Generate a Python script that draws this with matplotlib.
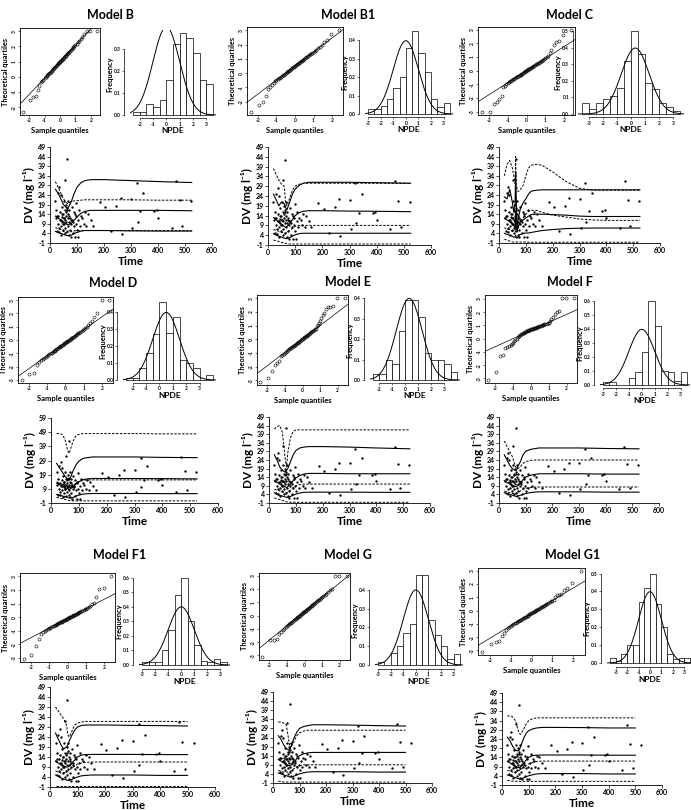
import matplotlib
matplotlib.use("Agg")
import matplotlib.pyplot as plt
import numpy as np
from statistics import NormalDist

plt.rcParams['font.family'] = ['Lato', 'DejaVu Sans']
plt.rcParams['axes.linewidth'] = 0.6

W, H = 691, 810

## ---------------- data ----------------
titles = ["Model B", "Model B1", "Model C", "Model D", "Model E", "Model F",
          "Model F1", "Model G", "Model G1"]

# sorted NPDE values (QQ plots)
npde_B = [-2.3, -1.55, -1.3, -1.25, -0.9, -0.6, -0.35, -0.28,
          -0.19, -0.11, -0.03, 0.04, 0.10, 0.16, 0.22, 0.28, 0.34, 0.39, 0.44, 0.50, 0.55, 0.60, 0.64,
          0.69, 0.74, 0.79, 0.83, 0.88, 0.93, 0.97, 1.02, 1.06, 1.11, 1.16, 1.20, 1.25, 1.30, 1.35,
          1.39, 1.44, 1.49, 1.55, 1.60, 1.65, 1.71, 1.77, 1.83, 1.89, 1.95, 2.02, 2.10, 2.18,
          2.26, 2.36, 2.46, 2.6, 2.85, 3.0, 3.0, 3.0]
npde_B1 = [-2.7, -2.25, -2.0, -1.6, -1.1, -1.0, -0.85, -0.7,
           -0.57, -0.50, -0.44, -0.37, -0.31, -0.26, -0.20, -0.15, -0.10, -0.05, 0.00, 0.05, 0.09,
           0.14, 0.18, 0.23, 0.27, 0.31, 0.35, 0.40, 0.44, 0.48, 0.52, 0.56, 0.61, 0.65, 0.69, 0.73,
           0.78, 0.82, 0.86, 0.91, 0.95, 1.00, 1.05, 1.10, 1.15, 1.20, 1.26, 1.31, 1.37, 1.44, 1.50, 1.57,
           1.65, 1.75, 1.85, 2.0, 2.15, 2.35, 2.75, 3.0]
npde_C = [-3.0, -3.0, -2.4, -2.3, -2.05, -1.85, -1.2, -1.1,
          -0.97, -0.90, -0.84, -0.78, -0.73, -0.68, -0.63, -0.58, -0.54, -0.49, -0.45, -0.41, -0.37,
          -0.33, -0.29, -0.25, -0.21, -0.17, -0.13, -0.09, -0.06, -0.02, 0.02, 0.06, 0.09, 0.13, 0.17,
          0.21, 0.25, 0.29, 0.33, 0.37, 0.41, 0.45, 0.49, 0.54, 0.58, 0.63, 0.68, 0.73, 0.78, 0.84, 0.90, 0.97,
          1.05, 1.3, 1.5, 1.9, 2.1, 2.2, 2.6, 2.95]
npde_D = [-3.0, -2.55, -2.45, -1.85, -1.65, -1.5, -1.42, -1.35,
          -1.27, -1.20, -1.14, -1.07, -1.01, -0.96, -0.90, -0.85, -0.80, -0.75, -0.70, -0.65, -0.61,
          -0.56, -0.52, -0.48, -0.43, -0.39, -0.35, -0.31, -0.26, -0.22, -0.18, -0.14, -0.10, -0.05,
          -0.01, 0.03, 0.08, 0.12, 0.16, 0.21, 0.25, 0.30, 0.35, 0.40, 0.45, 0.50, 0.56, 0.61, 0.67, 0.74, 0.80, 0.87,
          0.97, 1.1, 1.3, 1.45, 1.75, 2.0, 3.0, 3.0]
npde_E = [-3.1, -2.85, -2.3, -1.85, -1.75, -1.6, -1.25, -1.12,
          -1.04, -0.97, -0.91, -0.84, -0.78, -0.73, -0.67, -0.62, -0.57, -0.52, -0.47, -0.42, -0.38,
          -0.33, -0.29, -0.25, -0.20, -0.16, -0.12, -0.08, -0.03, 0.01, 0.05, 0.09, 0.14, 0.18, 0.22,
          0.26, 0.31, 0.35, 0.39, 0.44, 0.48, 0.53, 0.58, 0.63, 0.68, 0.73, 0.79, 0.95, 1.05, 1.2, 1.35, 1.55,
          1.75, 1.9, 2.25, 2.35, 2.4, 2.45, 3.0, 3.0]
npde_F = [-3.1, -2.5, -1.3, -1.25, -0.7, -0.6, -0.55, -0.5, -0.4, -0.3,
          -0.2, -0.1, 0.0, 0.1, 0.17, 0.22, 0.3, 0.35, 0.38, 0.42,
          0.45, 0.5, 0.53, 0.56, 0.58, 0.6, 0.63, 0.65, 0.68, 0.7,
          0.72, 0.74, 0.76, 0.78, 0.8, 0.82, 0.84, 0.86, 0.88, 0.9,
          0.92, 0.95, 0.97, 1.0, 1.02, 1.05, 1.08, 1.1, 1.13, 1.16,
          1.2, 1.3, 1.5, 1.65, 1.85, 2.0, 2.1, 3.05, 3.05, 3.05]
npde_F1 = [-3.05, -2.75, -2.1, -1.6, -1.25, -1.1, -1.0, -0.93,
           -0.87, -0.82, -0.77, -0.73, -0.68, -0.64, -0.60, -0.57, -0.53, -0.50, -0.46, -0.43, -0.39,
           -0.36, -0.33, -0.30, -0.27, -0.24, -0.21, -0.18, -0.15, -0.12, -0.08, -0.05, -0.02, 0.01,
           0.04, 0.07, 0.10, 0.13, 0.16, 0.19, 0.23, 0.26, 0.30, 0.33, 0.37, 0.40, 0.44, 0.48, 0.53, 0.57, 0.62, 0.67,
           0.75, 0.85, 0.95, 1.05, 1.5, 2.1, 2.15, 3.0]
npde_G = [-3.1, -1.85, -1.82, -1.78, -1.4, -1.25, -1.1, -0.98,
          -0.88, -0.80, -0.73, -0.66, -0.59, -0.53, -0.47, -0.41, -0.36, -0.30, -0.25, -0.20, -0.15,
          -0.10, -0.05, 0.00, 0.04, 0.09, 0.14, 0.18, 0.23, 0.28, 0.32, 0.37, 0.42, 0.46, 0.51,
          0.56, 0.60, 0.65, 0.70, 0.75, 0.80, 0.85, 0.90, 0.96, 1.01, 1.07, 1.13, 1.19, 1.26, 1.33, 1.40, 1.48,
          1.56, 1.65, 1.76, 1.88, 2.0, 2.95, 2.95, 2.95]
npde_G1 = [-3.1, -2.5, -2.4, -2.3, -1.9, -1.7, -1.5, -1.35,
           -1.22, -1.15, -1.09, -1.03, -0.97, -0.92, -0.87, -0.82, -0.77, -0.72, -0.68, -0.63, -0.59,
           -0.54, -0.50, -0.46, -0.42, -0.38, -0.34, -0.30, -0.26, -0.22, -0.18, -0.14, -0.10, -0.06,
           -0.02, 0.02, 0.06, 0.10, 0.14, 0.19, 0.23, 0.28, 0.32, 0.37, 0.42, 0.47, 0.52, 0.57, 0.63, 0.69, 0.75, 0.82,
           1.05, 1.15, 1.2, 1.25, 1.55, 1.7, 2.1, 2.95]
npde_all = [npde_B, npde_B1, npde_C, npde_D, npde_E, npde_F, npde_F1, npde_G, npde_G1]

# histogram densities, bins of width 0.5
hist_B = [0.015, 0.015, 0.05, 0.035, 0.07, 0.16, 0.32, 0.37, 0.35, 0.28, 0.16, 0.14]
hist_B1 = [0.025, 0.025, 0.045, 0.08, 0.14, 0.2, 0.36, 0.45, 0.33, 0.23, 0.08, 0.04, 0.06]
hist_C = [0.065, 0.03, 0.065, 0.09, 0.11, 0.16, 0.32, 0.5, 0.36, 0.19, 0.15, 0.065, 0.045, 0.02]
hist_D = [0.01, 0.01, 0.07, 0.16, 0.27, 0.46, 0.28, 0.37, 0.12, 0.10, 0.07, 0.0, 0.03]
hist_E = [0.03, 0.03, 0.10, 0.08, 0.24, 0.39, 0.39, 0.31, 0.13, 0.10, 0.10, 0.08, 0.04]
hist_F = [0.025, 0.025, 0.0, 0.0, 0.05, 0.09, 0.24, 0.6, 0.42, 0.1, 0.09, 0.03, 0.09]
hist_F1 = [0.02, 0.02, 0.02, 0.1, 0.24, 0.48, 0.6, 0.3, 0.14, 0.03, 0.02, 0.04, 0.02]
hist_G = [0.015, 0.0, 0.065, 0.1, 0.17, 0.22, 0.48, 0.48, 0.24, 0.16, 0.1, 0.03, 0.06]
hist_G1 = [0.03, 0.01, 0.05, 0.1, 0.1, 0.34, 0.42, 0.5, 0.33, 0.2, 0.05, 0.02, 0.03, 0.03]
hist_all = [hist_B, hist_B1, hist_C, hist_D, hist_E, hist_F, hist_F1, hist_G, hist_G1]
hist_first_edge = [-2.5, -3.0, -3.5, -2.5, -2.5, -3.0, -3.0, -3.0, -3.5]
curve_mean = [0, 0, 0.3, 0.5, 0.3, 0, 0, 0, 0]

# observed concentrations (same data in every VPC)
obs_time = [20, 22, 24, 26, 28, 30, 31, 33, 35, 36, 38, 39, 40, 42, 43, 44, 45, 47, 48, 50,
            51, 52, 54, 55, 55, 56, 57, 58, 59, 60, 61, 63, 63, 64, 65, 66, 67, 68, 69, 70,
            71, 73, 74, 76, 78, 80, 82, 85, 88, 90, 93, 95, 98, 100, 103, 105, 108, 110, 115, 120,
            125, 130, 135, 140, 150, 160, 185, 205, 225, 245, 262, 265, 300, 305, 322, 325, 335, 345,
            385, 395, 400, 450, 468, 480, 490, 522,
            25, 34, 41, 46, 49, 53, 62, 72, 77, 84, 92, 97]
obs_dv = [21, 12, 16, 5, 9, 25, 13, 4.5, 28, 11, 15, 24, 8, 3, 12.5, 18, 10, 6, 14, 12,
          21, 9, 32, 16, 4, 11, 7, 15, 13, 19, 10, 42.5, 5, 17, 12, 8, 21, 14, 3, 10,
          16, 6, 12, 2, 9, 18, 11, 4, 15, 8, 2, 13, 20, 6, 2, 11, 16, 8, 13, 12,
          9, 15, 8, 14, 11, 8, 20.5, 17.5, 5, 18.5, 22.5, 3.5, 22, 7, 30.5, 10, 15.5, 25,
          15.5, 16, 12, 7, 31.5, 21.5, 8, 21,
          13, 7, 11, 14, 9, 12, 16, 13, 11, 10, 14, 9]

# VPC percentile curves: [upper, median, lower]
vpc_time = [20, 30, 40, 50, 60, 65, 70, 80, 90, 100, 115, 130, 150, 200, 300, 400, 525]
vpc_time_500 = [20, 30, 40, 50, 60, 65, 70, 80, 90, 100, 115, 130, 150, 200, 300, 400, 500]
vpc_time_C = [20, 30, 40, 50, 55, 60, 62, 64, 66, 68, 70, 75, 80, 90, 100, 110, 120, 140, 160,
              200, 250, 300, 350, 400, 525]

vpc_B_solid = [[27, 25, 22, 19, 17.5, 17, 18, 21, 25, 28, 30.5, 31.5, 32, 32, 31.5, 31, 30.5],
               [13, 12, 11, 10, 9, 8.5, 8.5, 9.5, 11, 12.5, 14.5, 15.5, 16, 16, 16, 16, 15.8],
               [5, 4.5, 4, 3.5, 3, 2.8, 2.8, 3.2, 4, 4.5, 5.2, 5.5, 5.5, 5.5, 5.3, 5.2, 5.2]]
vpc_B_dotted = [[31, 28, 25, 22, 20, 19.5, 20, 20.5, 21, 21, 21.3, 21.5, 21.5, 21.5, 21.5, 21.3, 21.3],
                [7, 6.5, 6, 5, 4.5, 4.5, 4.5, 5, 5.3, 5.5, 5.5, 5.5, 5.5, 5.5, 5.5, 5.5, 5.5],
                [-0.8, -0.8, -0.8, -0.8, -0.8, -0.8, -0.8, -0.8, -0.8, -0.8, -0.8, -0.8, -0.8, -0.8, -0.8, -0.8, -0.8]]

vpc_B1_solid = [[25, 22, 19, 21, 20, 18, 17, 21, 25, 27.5, 29.5, 30.5, 31, 31, 31, 30.8, 30.5],
                [13, 12, 10.5, 9.5, 8.5, 8, 8.5, 10, 12, 14, 15.5, 16.2, 16.5, 16.5, 16.3, 16.2, 16],
                [4.8, 4, 3.5, 3, 2.5, 2.3, 2.3, 2.8, 3.5, 4.2, 4.8, 5, 5, 5, 5, 5, 5]]
vpc_B1_dotted = [[38, 35, 32, 30, 29, 20, 19, 23, 27, 29, 30, 30.5, 30.5, 30.5, 30.5, 30.5, 30.5],
                 [7, 6.5, 6, 5.5, 5, 5, 5.5, 6.5, 7.5, 8.5, 9, 9, 9, 9, 9, 9, 9],
                 [1.5, 1.2, 0.8, 0.3, 0, -0.2, -0.4, -0.5, -0.5, -0.5, -0.5, -0.5, -0.5, -0.5, -0.5, -0.5, -0.5]]

vpc_C_solid = [[23, 22, 27, 20, 15, 20, 36, 25, 10, 8, 10, 14, 17, 20, 22, 24.5, 26, 26.5, 26.7,
                26.7, 26.7, 26.7, 26.7, 26.7, 26.7],
               [12, 11, 10, 9, 8, 7, 15, 8, 6, 6, 7, 9, 10, 11, 12, 13, 13.8, 14, 14,
                13.8, 13.5, 13, 12.8, 12.8, 12.8],
               [4, 3.5, 3, 2.5, 2, 2, 3, 2, 1.5, 1.5, 2, 3, 3.5, 4, 4.2, 4.2, 4.5, 5, 5.5,
                6, 6.5, 6.7, 6.8, 6.8, 6.8]]
vpc_C_dotted = [[34, 40, 42, 38, 34, 30, 44, 30, 28, 27, 26, 26, 27, 29, 34, 38, 39.5, 40, 39.5,
                 36, 31, 27.5, 26.5, 26.5, 26.5],
                [7, 6, 6, 5, 5, 5, 9, 6, 5, 5, 6, 8, 10, 12, 14, 15.5, 16, 16, 15,
                 13.5, 12.5, 11.5, 11, 10.8, 10.8],
                [1, 0.5, 0, -0.5, -0.5, -0.5, -0.5, -0.5, -0.5, -0.5, -0.5, -0.5, -0.5, -0.5, -0.5,
                 -0.6, -0.6, -0.6, -0.6, -0.6, -0.6, -0.6, -0.6, -0.6, -0.6]]

vpc_D_solid = [[27, 24, 21, 18, 16, 15, 17, 22, 26, 28.5, 30.5, 31, 31.5, 31.5, 31.5, 31.2, 31],
               [13, 12, 11, 10, 9, 8.5, 9, 10.5, 12.5, 14, 15.5, 16, 16.3, 16.3, 16.3, 16.2, 16],
               [5, 4.5, 4, 3.5, 3, 2.5, 2.5, 3, 4, 4.5, 5.3, 5.5, 5.7, 5.7, 5.7, 5.6, 5.6]]
vpc_D_dotted = [[48, 48, 47.5, 44, 36, 34, 37, 43, 46.5, 47.5, 48, 48, 48, 48, 48, 47.8, 47.8],
                [14, 13, 12, 11, 10, 10, 10.5, 11.5, 13, 14, 15, 15.3, 15.3, 15.3, 15.3, 15.3, 15.3],
                [3, 2.5, 2, 1.5, 1, 0.8, 0.6, 0.5, 0.5, 0.5, 0.5, 0.5, 0.5, 0.5, 0.5, 0.5, 0.5]]

vpc_E_solid = [[27, 24, 20, 18, 17, 18, 19, 23, 27, 29.5, 31, 31.5, 31.8, 31.8, 31.5, 31, 30.5],
               [12, 11, 10, 9, 8.5, 8, 8.5, 10, 12, 13.5, 15, 15.8, 16.2, 16.2, 16, 16, 16],
               [5, 4, 3.5, 3, 2.5, 2.3, 2.3, 2.8, 3.5, 4.2, 4.8, 5.2, 5.3, 5.3, 5.3, 5.2, 5.2]]
vpc_E_dotted = [[42, 43.5, 44, 40, 25, 20, 28, 37, 40.5, 41.5, 41.5, 41.5, 41.5, 41.5, 41.5, 41.5, 41.5],
                [7, 6.5, 6, 5.5, 5, 5, 5.5, 6.5, 8, 9, 9.8, 10, 10, 10, 10, 10, 10],
                [2, 1.5, 1, 0.5, 0, -0.3, -0.5, -0.6, -0.6, -0.6, -0.6, -0.6, -0.6, -0.6, -0.6, -0.6, -0.6]]

vpc_F_solid = [[27, 24, 21, 19, 18, 18, 20, 23, 27, 29, 30, 30.5, 31, 31, 31, 30.7, 30.5],
               [12, 11, 10, 9, 8.5, 8.5, 9, 10.5, 12.5, 14, 15, 15.5, 16, 16, 16, 15.8, 15.8],
               [5, 4.5, 4, 3.5, 3, 2.8, 3, 3.5, 4, 4.5, 5, 5.3, 5.5, 5.5, 5.5, 5.3, 5.3]]
vpc_F_dotted = [[35, 32, 29, 26, 21, 19, 19, 20, 22, 23, 23.7, 24, 24, 24, 24, 24, 24],
                [6, 5.5, 5, 4.5, 4.5, 4.5, 5, 6, 7, 7.5, 8, 8.2, 8.3, 8.3, 8.3, 8.3, 8.3]]

vpc_F1_solid = [[26, 23, 20, 18, 19, 20, 22, 25, 27.5, 29, 29.8, 30, 30, 30, 29.8, 29.7, 29.5],
                [12, 11, 10, 9.5, 9, 9, 9.5, 11, 12.5, 14, 15, 15.2, 15.3, 15.3, 15.3, 15.2, 15.2],
                [5, 4.5, 3.5, 3, 2.5, 2.3, 2.3, 2.8, 3.5, 4, 4.6, 4.8, 5, 5, 5, 4.8, 4.8]]
vpc_F1_dotted = [[39, 37, 35, 33, 30, 25, 24, 27, 30, 31, 31.5, 31.8, 31.8, 31.8, 31.8, 31.8, 31.8],
                 [7, 6.5, 6, 6, 6.5, 7, 7.5, 8.5, 9.5, 10.5, 11, 11.3, 11.5, 11.5, 11.5, 11.5, 11.5],
                 [-0.6, -0.6, -0.6, -0.6, -0.6, -0.6, -0.6, -0.6, -0.6, -0.6, -0.6, -0.6, -0.6, -0.6, -0.6, -0.6, -0.6]]

vpc_G_solid = [[25, 23, 20, 18, 17, 18, 20, 24, 27, 29, 30, 30.5, 31, 31, 30.8, 30.5, 30.3],
               [12, 11, 10, 9, 8.5, 8.5, 9, 10.5, 12.5, 14, 15, 15.5, 15.8, 15.8, 15.8, 15.8, 15.8],
               [4.5, 4, 3.5, 3, 2.5, 2.3, 2.3, 2.8, 3.5, 4, 4.6, 5, 5.2, 5.2, 5.2, 5, 5]]
vpc_G_dotted = [[32.5, 32.5, 32, 31, 22, 18, 19, 22, 25, 26.5, 27.5, 28, 28, 28, 28, 28, 28],
                [6, 5.5, 5, 5, 5, 5.5, 6, 7, 8, 8.5, 9, 9, 9, 9, 9, 9, 9],
                [0, -0.2, -0.5, -0.5, -0.5, -0.5, -0.5, -0.5, -0.5, -0.5, -0.5, -0.5, -0.5, -0.5, -0.5, -0.5, -0.5]]

vpc_G1_solid = [[25, 23, 20, 18, 17.5, 18, 20, 24, 27, 28.5, 29.5, 30, 30.3, 30.3, 30.2, 30, 30],
                [12, 11, 10, 9, 8.5, 8.5, 9, 10.5, 12.5, 14, 15, 15.2, 15.3, 15.3, 15.3, 15.2, 15.2],
                [4.5, 4, 3.5, 3, 2.5, 2.3, 2.3, 2.8, 3.5, 4, 4.6, 5, 5.2, 5.2, 5.2, 5, 5]]
vpc_G1_dotted = [[36.5, 36.5, 36, 34, 29, 27, 26.5, 29, 32, 34, 35, 35.5, 35.5, 35.5, 35.5, 35.5, 35.5],
                 [7, 6.5, 6, 6, 6.5, 7, 7.5, 8.5, 9.5, 10.5, 11.3, 11.8, 12, 12, 12, 12, 12],
                 [1.5, 1.3, 1.1, 1, 1, 1, 1, 1, 1, 1, 1, 1, 1, 1, 1, 1, 1]]

vpc_times = [vpc_time, vpc_time, vpc_time_C, vpc_time, vpc_time, vpc_time,
             vpc_time_500, vpc_time_500, vpc_time_500]
vpc_solid = [vpc_B_solid, vpc_B1_solid, vpc_C_solid, vpc_D_solid, vpc_E_solid, vpc_F_solid,
             vpc_F1_solid, vpc_G_solid, vpc_G1_solid]
vpc_dotted = [vpc_B_dotted, vpc_B1_dotted, vpc_C_dotted, vpc_D_dotted, vpc_E_dotted, vpc_F_dotted,
              vpc_F1_dotted, vpc_G_dotted, vpc_G1_dotted]
dv_top = [49, 49, 49, 59, 49, 49, 49, 49, 49]

## ---------------- layout (pixels inside each cell) ----------------
cells = [(0, 0), (230, 0), (460, 0), (0, 270), (230, 270), (460, 270),
         (0, 540), (230, 540), (460, 540)]
title_xy = [(110, 15), (118, 15), (110, 15), (113, 13), (118, 12), (110, 12),
            (120, 15), (118, 15), (113, 15)]
qq_box = [(20, 28, 100, 115), (17, 27, 113, 115), (18, 27, 115, 115), (18, 27, 113, 113),
          (27, 25, 118, 115), (25, 25, 117, 113), (20, 33, 115, 122), (29, 33, 120, 120),
          (18, 28, 125, 115)]
hist_box = [(133, 30, 213, 115), (138, 28, 220, 114), (122, 28, 220, 114), (126, 29, 213, 110),
            (143, 27, 227, 110), (143, 28, 227, 115), (142, 34, 227, 125), (148, 31, 230, 125),
            (150, 30, 230, 123)]
vpc_box = [(50, 147, 212, 243), (38, 147, 201, 245), (39, 147, 200, 243), (51, 148, 218, 233),
           (39, 147, 200, 233), (39, 147, 199, 233), (50, 147, 215, 247), (43, 152, 202, 243),
           (42, 153, 202, 245)]

fig = plt.figure(figsize=(W / 100, H / 100), dpi=100)


def add_ax(cell, x0, y0, x1, y1):
    cx, cy = cell
    return fig.add_axes([(cx + x0) / W, 1 - (cy + y1) / H, (x1 - x0) / W, (y1 - y0) / H])


def small_ticks(ax, size):
    ax.tick_params(direction='out', length=1.6, width=0.4, pad=0.8, labelsize=size)
    for lab in ax.get_xticklabels() + ax.get_yticklabels():
        lab.set_fontweight('bold')


for k in range(9):
    cell = cells[k]
    fig.text((cell[0] + title_xy[k][0]) / W, 1 - (cell[1] + title_xy[k][1]) / H, titles[k],
             ha='center', va='center', fontsize=9, fontweight='bold')

    # ---- QQ plot
    y = np.array(npde_all[k])
    n = len(y)
    z = np.array([NormalDist().inv_cdf((i - 0.5) / n) for i in range(1, n + 1)])
    ax = add_ax(cell, *qq_box[k])
    ax.plot(z, y, 'o', mfc='none', mec='k', ms=2.2, mew=0.4)
    q1, q3 = np.percentile(y, [25, 75])
    slope = (q3 - q1) / (2 * NormalDist().inv_cdf(0.75))
    inter = q1 + slope * NormalDist().inv_cdf(0.75)
    ax.axline((0, inter), slope=slope, color='k', lw=0.5)
    pad = 0.04 * (z.max() - z.min())
    ax.set_xlim(z.min() - pad, z.max() + pad)
    pad = 0.04 * (y.max() - y.min())
    ax.set_ylim(y.min() - pad, y.max() + pad)
    ax.set_xticks([-2, -1, 0, 1, 2])
    yt = [v for v in range(-3, 4) if y.min() - pad <= v <= y.max() + pad]
    ax.set_yticks(yt)
    ax.set_yticklabels([str(v) for v in yt], rotation=90, va='center')
    ax.set_xticklabels(["-2", "-1", "0", "1", "2"])
    small_ticks(ax, 3.5)
    ax.set_xlabel("Sample quantiles", fontsize=5.5, fontweight='bold', labelpad=2.5)
    ax.set_ylabel("Theoretical quartiles", fontsize=5.3, fontweight='bold', labelpad=2)

    # ---- histogram
    h = np.array(hist_all[k])
    edges = hist_first_edge[k] + 0.5 * np.arange(len(h) + 1)
    bx0, by0, bx1, by1 = hist_box[k]
    m = h.max()
    dx = 0.04 * (bx1 - bx0)
    dy = (by1 - by0) * 0.04 / 1.04
    ax = add_ax(cell, bx0 - dx, by0, bx1 + dx, by1 + dy)
    ax.bar(edges[:-1], h, width=0.5, align='edge', fc='white', ec='k', lw=0.5)
    xs = np.linspace(-4, 4.5, 300)
    nd = NormalDist(curve_mean[k], 1)
    ax.plot(xs, [nd.pdf(v) for v in xs], color='k', lw=0.7)
    span = edges[-1] - edges[0]
    ax.set_xlim(edges[0] - 0.04 * span, edges[-1] + 0.04 * span)
    ax.set_ylim(-0.04 * m, 1.04 * m)
    xt = [v for v in range(-3, 4) if edges[0] <= v <= edges[-1]]
    yt = [round(0.1 * i, 1) for i in range(0, 7) if 0.1 * i <= 1.04 * m + 1e-9]
    ax.set_xticks(xt)
    ax.set_xticklabels([str(v) for v in xt])
    ax.set_yticks(yt)
    ax.set_yticklabels(["%.1f" % v for v in yt], rotation=90, va='center')
    for s in ['top', 'right']:
        ax.spines[s].set_visible(False)
    ax.spines['left'].set_position(('outward', 4))
    ax.spines['left'].set_bounds(0, yt[-1])
    ax.spines['bottom'].set_bounds(xt[0], xt[-1])
    ax.spines['left'].set_linewidth(0.5)
    ax.spines['bottom'].set_linewidth(0.5)
    small_ticks(ax, 3.5)
    ax.set_xlabel("NPDE", fontsize=6, fontweight='bold', labelpad=0.5)
    ax.set_ylabel("Frequency", fontsize=5.5, fontweight='bold', labelpad=0.5)

    # ---- VPC
    ax = add_ax(cell, *vpc_box[k])
    t = vpc_times[k]
    for curve in vpc_solid[k]:
        ax.plot(t, curve, color='k', lw=0.8)
    for curve in vpc_dotted[k]:
        ax.plot(t, curve, color='k', lw=0.7, linestyle=(0, (2.5, 1.5)))
    ax.plot(obs_time, obs_dv, 'o', color='k', ms=1.7, mew=0)
    ax.set_xlim(0, 600)
    ax.set_ylim(-1, dv_top[k])
    ax.set_xticks(range(0, 601, 100))
    step = 10 if dv_top[k] > 50 else 5
    yt = list(range(-1, dv_top[k] + 1, step))
    ax.set_yticks(yt)
    ax.set_yticklabels([str(v) for v in yt])
    for s in ['top', 'right']:
        ax.spines[s].set_visible(False)
    ax.spines['left'].set_linewidth(0.6)
    ax.spines['bottom'].set_linewidth(0.6)
    ax.tick_params(direction='out', length=2, width=0.5, pad=1, labelsize=5)
    for lab in ax.get_xticklabels() + ax.get_yticklabels():
        lab.set_fontweight('bold')
    ax.set_xlabel("Time", fontsize=8.5, fontweight='bold', labelpad=1)
    ax.set_ylabel("DV (mg l⁻¹)", fontsize=8.5, fontweight='bold', labelpad=2)

fig.savefig("out.png", dpi=100)
